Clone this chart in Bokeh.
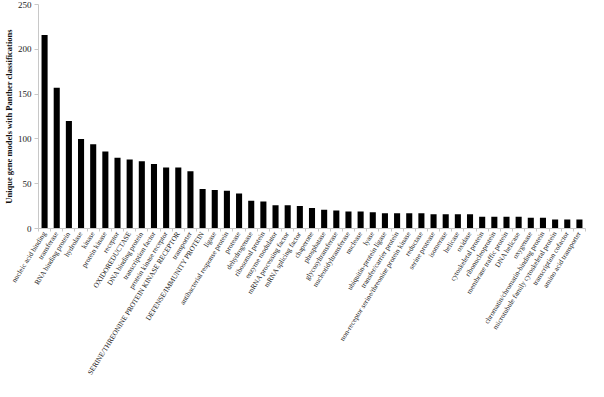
import math
from bokeh.plotting import figure
from bokeh.models import Range1d, FixedTicker
from bokeh.embed import file_html
from bokeh.resources import INLINE

categories = [
    "nucleic acid binding", "transferase", "RNA binding protein", "hydrolase", "kinase",
    "protein kinase", "receptor", "OXIDOREDUCTASE", "DNA binding protein", "transcription factor",
    "protein kinase receptor", "SERINE/THREONINE PROTEIN KINASE RECEPTOR", "transporter",
    "DEFENSE/IMMUNITY PROTEIN", "ligase", "antibacterial response protein", "protease",
    "dehydrogenase", "ribosomal protein", "enzyme modulator", "mRNA processing factor",
    "mRNA splicing factor", "chaperone", "phosphatase", "glycosyltransferase",
    "nucleotidyltransferase", "nuclease", "lyase", "ubiquitin-protein ligase",
    "transfer/carrier protein", "non-receptor serine/threonine protein kinase", "reductase",
    "serine protease", "isomerase", "helicase", "oxidase", "cytoskeletal protein",
    "ribonucleoprotein", "membrane traffic protein", "DNA helicase", "oxygenase",
    "chromatin/chromatin-binding protein", "microtubule family cytoskeletal protein",
    "transcription cofactor", "amino acid transporter",
]
counts = [216, 157, 120, 100, 94, 86, 79, 77, 75, 72, 68, 68, 64, 44, 43, 42, 39, 31, 30, 26,
          26, 25, 23, 21, 20, 19, 19, 18, 17, 17, 17, 17, 16, 16, 16, 16, 13, 13, 13, 13,
          12, 12, 10, 10, 10]
y_ticks = [0, 50, 100, 150, 200, 250]

positions = list(range(1, len(categories) + 1))

p = figure(width=588, height=381, output_backend="svg", toolbar_location=None,
           x_range=Range1d(0.5, len(categories) + 0.5), y_range=Range1d(0, 250),
           min_border_top=4, min_border_right=3, min_border_left=10, min_border_bottom=0)
p.vbar(x=positions, top=counts, width=0.5, fill_color="black", line_color=None)

p.outline_line_color = None
p.xgrid.visible = False
p.ygrid.visible = False

xa = p.xaxis[0]
xa.ticker = FixedTicker(ticks=positions, minor_ticks=[i + 0.5 for i in range(0, len(categories) + 1)])
xa.major_label_overrides = {i: c for i, c in zip(positions, categories)}
xa.major_label_orientation = math.radians(58)
xa.major_tick_out = 0
xa.major_tick_in = 0
xa.minor_tick_out = 3
xa.minor_tick_in = 0
xa.minor_tick_line_color = "#c8c8c8"
xa.axis_line_color = "#c8c8c8"
xa.major_label_text_font = "Liberation Serif"
xa.major_label_text_font_size = "7.2px"
xa.major_label_text_color = "#222222"
xa.major_label_standoff = 1

ya = p.yaxis[0]
ya.ticker = FixedTicker(ticks=y_ticks)
ya.minor_tick_line_color = None
ya.major_tick_out = 4
ya.major_tick_in = 0
ya.major_tick_line_color = "#c8c8c8"
ya.axis_line_color = "#c8c8c8"
ya.major_label_text_font = "Liberation Serif"
ya.major_label_text_font_size = "9px"
ya.major_label_text_color = "#222222"
ya.major_label_standoff = 3
ya.axis_label = "Unique gene models with Panther classifications"
ya.axis_label_text_font = "Liberation Serif"
ya.axis_label_text_font_style = "bold"
ya.axis_label_text_font_size = "8.5px"
ya.axis_label_text_color = "#111111"
ya.axis_label_standoff = 1

open("out.html", "w").write(file_html(p, INLINE))
